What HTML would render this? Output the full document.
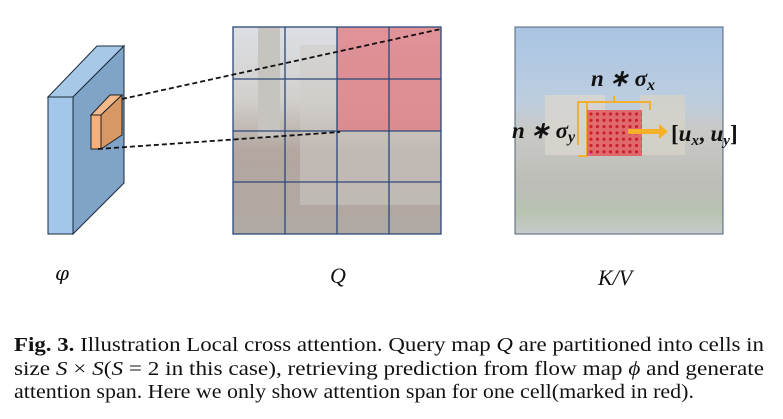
<!DOCTYPE html>
<html><head><style>html,body{margin:0;padding:0;background:#fff;}svg{display:block}</style></head>
<body>
<svg width="783" height="419" viewBox="0 0 783 419" xmlns="http://www.w3.org/2000/svg">
<defs>
<linearGradient id="qbg" x1="0" y1="0" x2="0" y2="1">
<stop offset="0" stop-color="#dcdfe4"/><stop offset="0.35" stop-color="#d2d0cc"/><stop offset="0.6" stop-color="#b3a7a0"/><stop offset="1" stop-color="#b0a8a3"/></linearGradient>
<linearGradient id="kbg" x1="0" y1="0" x2="0" y2="1">
<stop offset="0" stop-color="#a9c4e2"/><stop offset="0.35" stop-color="#bccde0"/><stop offset="0.5" stop-color="#c9c9c6"/><stop offset="0.75" stop-color="#bdbdb8"/><stop offset="0.9" stop-color="#b9c3b2"/><stop offset="1" stop-color="#c6cbcc"/></linearGradient>
<pattern id="dots" x="588" y="111" width="6.5" height="6.3" patternUnits="userSpaceOnUse"><circle cx="3" cy="3" r="1.6" fill="#c8202a"/></pattern>
</defs>
<!-- cube -->
<polygon points="48,97 97,46 124,46 73,97" fill="#a8c8e8" stroke="#1a2a3a" stroke-width="1"/>
<polygon points="73,97 124,46 124,183 73,234" fill="#7fa4c8" stroke="#1a2a3a" stroke-width="1"/>
<rect x="48" y="97" width="25" height="137" fill="#a3c6ea" stroke="#1a2a3a" stroke-width="1"/>
<polygon points="91,115 110,95 122,95 101,115" fill="#f3b98a" stroke="#222" stroke-width="1"/>
<polygon points="101,115 122,95 122,135 101,149" fill="#d89866" stroke="#222" stroke-width="1"/>
<rect x="91" y="115" width="10" height="34" fill="#f5b07e" stroke="#222" stroke-width="1"/>
<!-- Q -->
<rect x="233" y="27" width="208" height="207" fill="url(#qbg)"/>
<rect x="258" y="27" width="22" height="110" fill="#c7c4c0"/>
<rect x="300" y="45" width="140" height="160" fill="#cfccc8" opacity="0.5"/>
<rect x="337" y="27" width="104" height="104" fill="#e07a80" opacity="0.75"/>
<g stroke="#2c4878" stroke-width="1.3" fill="none">
<rect x="233" y="27" width="208" height="207"/>
<line x1="285" y1="27" x2="285" y2="234"/><line x1="337" y1="27" x2="337" y2="234"/><line x1="389" y1="27" x2="389" y2="234"/>
<line x1="233" y1="79" x2="441" y2="79"/><line x1="233" y1="131" x2="441" y2="131"/><line x1="233" y1="182" x2="441" y2="182"/>
</g>
<g stroke="#111" stroke-width="1.8" stroke-dasharray="5,3">
<line x1="122" y1="99" x2="441" y2="29"/><line x1="98" y1="149" x2="340" y2="132"/>
</g>
<!-- K/V -->
<rect x="515" y="27" width="208" height="207" fill="url(#kbg)" stroke="#50607a" stroke-width="1"/>
<rect x="545" y="95" width="60" height="60" fill="#d9d6cf" opacity="0.8"/>
<rect x="640" y="95" width="45" height="60" fill="#d6d2c8" opacity="0.8"/>
<polyline points="578,145 578,102 614,102 614,96 614,102 650,102 650,110" fill="none" stroke="#f0b030" stroke-width="2"/>
<polyline points="587,102 587,156 578,156" fill="none" stroke="#f0b030" stroke-width="2"/>
<rect x="587" y="110" width="55" height="46" fill="#e4585e" opacity="0.85"/>
<rect x="587" y="110" width="55" height="46" fill="url(#dots)"/>
<rect x="628" y="129" width="32" height="5" fill="#f5b02a"/>
<polygon points="659,124 668,131.5 659,139" fill="#f5b02a"/>
<text x="591" y="86" font-family="Liberation Serif,serif" font-weight="bold" font-style="italic" font-size="23" fill="#111">n ∗ σ<tspan font-size="16" dy="4">x</tspan></text>
<text x="512" y="138" font-family="Liberation Serif,serif" font-weight="bold" font-style="italic" font-size="23" fill="#111">n ∗ σ<tspan font-size="16" dy="4">y</tspan></text>
<text x="671" y="141" font-family="Liberation Serif,serif" font-weight="bold" font-size="23" fill="#111">[<tspan font-style="italic">u</tspan><tspan font-style="italic" font-size="15" dy="4">x</tspan><tspan dy="-4">, </tspan><tspan font-style="italic">u</tspan><tspan font-style="italic" font-size="15" dy="4">y</tspan><tspan dy="-4">]</tspan></text>
<!-- labels -->
<text x="55" y="280" font-family="DejaVu Serif,serif" font-style="italic" font-size="20" fill="#111">φ</text>
<text x="330" y="283" font-family="Liberation Serif,serif" font-style="italic" font-size="22" fill="#111">Q</text>
<text x="598" y="285" font-family="Liberation Serif,serif" font-style="italic" font-size="22" fill="#111">K/V</text>
<!-- caption -->
<g font-family="Liberation Serif,serif" font-size="20" fill="#111">
<text x="14" y="351" textLength="750" lengthAdjust="spacingAndGlyphs"><tspan font-weight="bold">Fig. 3.</tspan> Illustration Local cross attention. Query map <tspan font-style="italic">Q</tspan> are partitioned into cells in</text>
<text x="14" y="375" textLength="750" lengthAdjust="spacingAndGlyphs">size <tspan font-style="italic">S</tspan> × <tspan font-style="italic">S</tspan>(<tspan font-style="italic">S</tspan> = 2 in this case), retrieving prediction from flow map <tspan font-style="italic">ϕ</tspan> and generate</text>
<text x="14" y="398" textLength="680" lengthAdjust="spacingAndGlyphs">attention span. Here we only show attention span for one cell(marked in red).</text>
</g>
</svg>
</body></html>
